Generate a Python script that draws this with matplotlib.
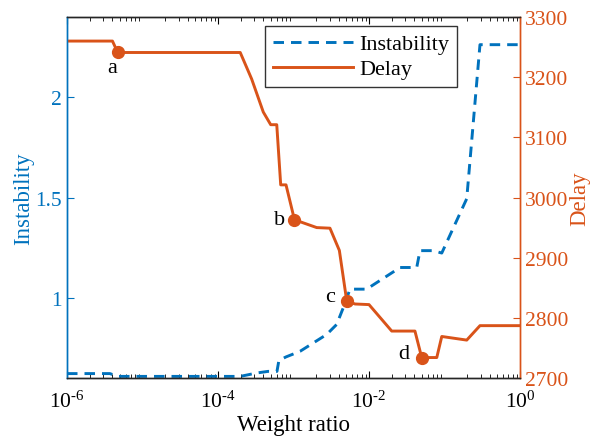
import matplotlib
matplotlib.use("Agg")
import matplotlib.pyplot as plt
from matplotlib.ticker import LogLocator, FixedLocator

# ---- data ----
x_inst = [1e-6, 3.7e-6, 4.7e-6, 1.97e-4, 3.26e-4, 4.6e-4, 6.04e-4, 6.4e-4, 7.94e-4,
          1.22e-3, 2.75e-3, 3.73e-3, 4.57e-3, 5.6e-3, 9.3e-3, 2.58e-2, 4.29e-2,
          4.73e-2, 7.1e-2, 9.2e-2, 0.197, 0.295, 1.0]
instability = [0.622, 0.622, 0.608, 0.608, 0.625, 0.633, 0.633, 0.687, 0.705,
               0.733, 0.817, 0.867, 0.951, 1.043, 1.043, 1.151, 1.151,
               1.235, 1.235, 1.223, 1.494, 2.262, 2.262]

x_delay = [1e-6, 4e-6, 4.7e-6, 1.97e-4, 2.79e-4, 3.98e-4, 4.99e-4, 6.0e-4, 6.77e-4,
           7.96e-4, 1.03e-3, 2.03e-3, 3.04e-3, 4.05e-3, 5.07e-3, 6.53e-3, 1.0e-2,
           2.0e-2, 4.06e-2, 4.99e-2, 7.9e-2, 9.2e-2, 0.197, 0.295, 1.0]
delay = [3260, 3260, 3241, 3241, 3197, 3142, 3121, 3121, 3021,
         3021, 2963, 2950, 2949, 2912, 2828, 2823, 2822,
         2778, 2778, 2734, 2734, 2769, 2763, 2787, 2787]

point_labels = ["a", "b", "c", "d"]
point_idx = [2, 10, 14, 19]
label_offsets = [(-4, -11), (-11, 0), (-12, 3), (-13, 3)]

left_ticks = [1, 1.5, 2]
left_ticklabels = ["1", "1.5", "2"]
right_ticks = [2700, 2800, 2900, 3000, 3100, 3200, 3300]
x_ticks = [1e-6, 1e-4, 1e-2, 1e0]
x_ticklabels = [r"$10^{\text{-}6}$", r"$10^{\text{-}4}$", r"$10^{\text{-}2}$", r"$10^{0}$"]

blue = "#0072BD"
orange = "#D95319"

plt.rcParams["font.family"] = ["Liberation Serif", "DejaVu Serif"]
plt.rcParams["mathtext.fontset"] = "custom"
plt.rcParams["mathtext.rm"] = "Liberation Serif"
plt.rcParams["mathtext.it"] = "Liberation Serif:italic"
plt.rcParams["mathtext.default"] = "rm"

fig = plt.figure(figsize=(5.92, 4.39), dpi=100)
ax1 = fig.add_axes([67/592, 1-379/439, (520-67)/592, (379-18)/439])
ax2 = ax1.twinx()

l1, = ax1.plot(x_inst, instability, color=blue, lw=2.1, linestyle=(0, (3.6, 2.4)),
               label="Instability")
l2, = ax2.plot(x_delay, delay, color=orange, lw=2.1, label="Delay")
px = [x_delay[i] for i in point_idx]
py = [delay[i] for i in point_idx]
ax2.plot(px, py, "o", color=orange, ms=8.5, zorder=5)
for lab, xx, yy, off in zip(point_labels, px, py, label_offsets):
    ax2.annotate(lab, (xx, yy), xytext=off, textcoords="offset points",
                 ha="center", va="center", fontsize=16, color="black")

ax1.set_xscale("log")
ax1.set_xlim(1e-6, 1)
ax1.set_ylim(0.6, 2.4)
ax2.set_ylim(2700, 3300)

ax1.xaxis.set_major_locator(FixedLocator(x_ticks))
ax1.set_xticklabels(x_ticklabels)
ax1.xaxis.set_minor_locator(LogLocator(base=10, subs=range(2, 10), numticks=20))
ax1.set_yticks(left_ticks)
ax1.set_yticklabels(left_ticklabels)
ax2.set_yticks(right_ticks)

ax1.tick_params(axis="x", which="both", direction="in", top=True, bottom=True,
                labelsize=15.5, colors="black", pad=9)
ax1.tick_params(axis="x", which="major", length=5, width=0.8)
ax1.tick_params(axis="x", which="minor", length=3, width=0.6)
ax1.tick_params(axis="y", which="both", direction="in", length=5, width=0.8,
                colors=blue, labelsize=15.5, labelcolor=blue)
ax2.tick_params(axis="y", which="both", direction="in", length=5, width=0.8,
                colors=orange, labelsize=15.5, labelcolor=orange)

for ax in (ax1, ax2):
    ax.spines["left"].set_color(blue)
    ax.spines["right"].set_color(orange)
    ax.spines["top"].set_color("#262626")
    ax.spines["bottom"].set_color("#262626")
    for s in ax.spines.values():
        s.set_linewidth(1.0)

ax1.set_xlabel("Weight ratio", fontsize=16.5, labelpad=2)
ax1.set_ylabel("Instability", fontsize=16.5, color=blue, labelpad=1)
ax2.set_ylabel("Delay", fontsize=16.5, color=orange, rotation=90, labelpad=1)

leg = ax2.legend([l1, l2], ["Instability", "Delay"], loc="upper left",
                 bbox_to_anchor=((265-67)/453, (379-27)/361), fontsize=16,
                 frameon=True, fancybox=False, edgecolor="black",
                 handlelength=3.6, handletextpad=0.3, borderpad=0.35,
                 labelspacing=0.2, borderaxespad=0)
leg.get_frame().set_linewidth(1.0)

fig.savefig("out.png", dpi=100)
